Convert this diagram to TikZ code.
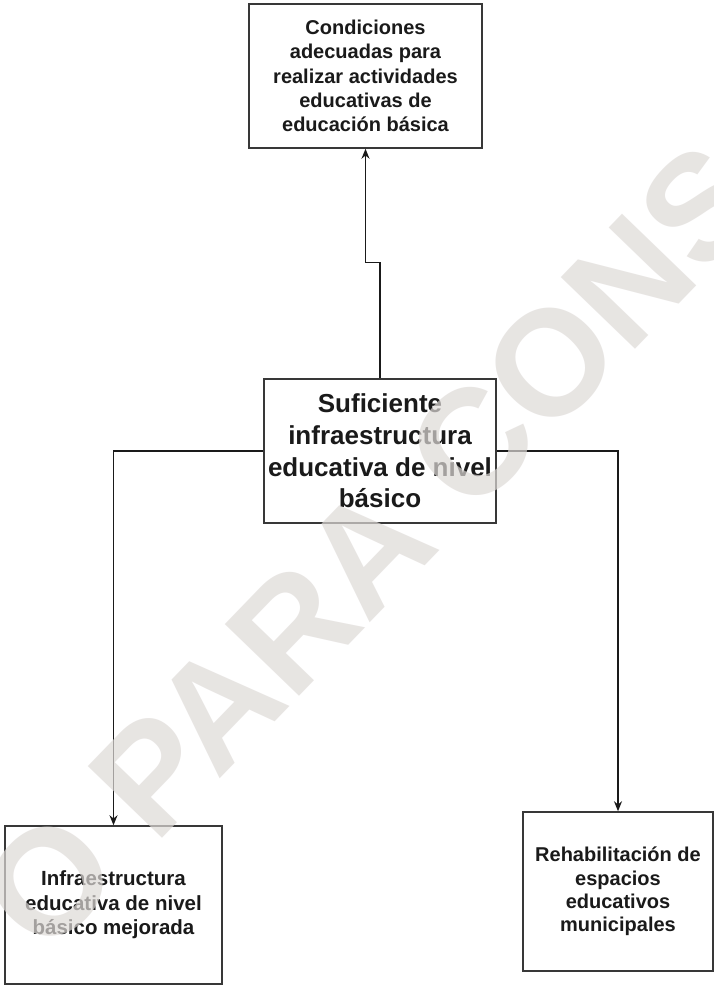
\documentclass[tikz,border=0pt]{standalone}
\usepackage{fontspec}
\setmainfont{Liberation Sans}
\usetikzlibrary{arrows.meta}
\definecolor{wm}{rgb}{0.871,0.854,0.843}
\definecolor{ink}{HTML}{1A1A1A}
\definecolor{frame}{HTML}{383838}
\begin{document}
\begin{tikzpicture}[x=1pt,y=1pt,
  box/.style={draw=frame, line width=1.5pt, fill=white, align=center, inner sep=2pt, text=ink},
  conn/.style={draw=ink, line width=1.4pt, -{Stealth[length=10pt,width=8pt]}},
  wmtext/.style={text=wm, opacity=0.7, rotate=46, inner sep=0pt,
    font=\bfseries\fontsize{150}{150}\selectfont}]
\useasboundingbox (0,0) rectangle (714,-987);
\fill[white] (0,0) rectangle (714,-987);

\node[box, minimum width=233pt, minimum height=144pt,
  font=\bfseries\fontsize{20}{24.3}\selectfont] (t) at (365.5,-76)
  {Condiciones\\adecuadas para\\realizar actividades\\educativas de\\educación básica};

\node[box, minimum width=232pt, minimum height=144pt,
  font=\bfseries\fontsize{26}{31.7}\selectfont] (c) at (380,-451)
  {Suficiente\\infraestructura\\educativa de nivel\\básico};

\node[box, minimum width=217pt, minimum height=158pt,
  font=\bfseries\fontsize{20.5}{24.5}\selectfont] (l) at (113.5,-905)
  {Infraestructura\\educativa de nivel\\básico mejorada};

\node[box, minimum width=190pt, minimum height=159pt,
  font=\bfseries\fontsize{20}{23.3}\selectfont] (r) at (618,-891.5)
  {Rehabilitación de\\espacios\\educativos\\municipales};

\draw[conn] (c.north) -- ++(0,116) -| (t.south);
\draw[conn] (c.west) -| (l.north);
\draw[conn] (c.east) -| (r.north);

\node[wmtext] (wmark) at (372,-547) {O PARA CONS};
\end{tikzpicture}
\end{document}
